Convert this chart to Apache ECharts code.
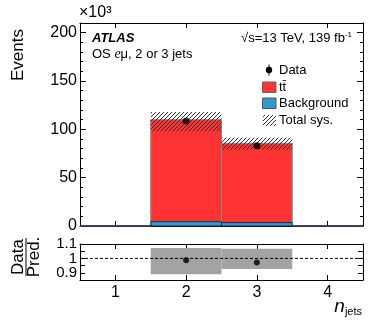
<!DOCTYPE html>
<html>
<head>
<meta charset="utf-8">
<script src="https://cdn.jsdelivr.net/npm/echarts@6/dist/echarts.min.js"></script>
<style>
  html, body { margin: 0; padding: 0; background: #fff; }
  #chart { width: 382px; height: 323px; }
</style>
</head>
<body>
<div id="chart"></div>
<script>
// jet multiplicity bins
const nJets = [1, 2, 3, 4]
// event counts, in units of 10^3
const background = [0, 4.5, 3.5, 0]
const ttbar = [0, 105.5, 82, 0]
const observed = [null, 108.5, 83, null]
const sysUp = [0, 118, 91.2, 0]
const sysDown = [0, 97.9, 79.2, 0]
const mainTicks = [0, 50, 100, 150, 200]
const ratioLabels = ['0.9', '1', '1.1']

const FONT = 'Liberation Sans'

// prediction and ratio derived from the arrays above
const predicted = nJets.map((n, i) => background[i] + ttbar[i])
const bkgData = nJets.map((n, i) => [n, 0, background[i]])
const ttData = nJets.map((n, i) => [n, background[i], predicted[i]])
const sysData = nJets.map((n, i) => [n, sysDown[i], sysUp[i]]).filter(d => d[2] > 0)
const dataPts = nJets.map((n, i) => [n, observed[i]]).filter(d => d[1] !== null)
const ratioBand = nJets.map((n, i) => predicted[i] > 0 ? [n, sysDown[i] / predicted[i], sysUp[i] / predicted[i]] : null).filter(d => d)
const ratioPts = nJets.map((n, i) => observed[i] !== null ? [n, observed[i] / predicted[i]] : null).filter(d => d)

function hatchCanvas() {
  const c = document.createElement('canvas')
  c.width = 4
  c.height = 4
  const g = c.getContext('2d')
  g.strokeStyle = '#333'
  g.lineWidth = 1
  g.beginPath()
  g.moveTo(0, 4); g.lineTo(4, 0)
  g.moveTo(-1, 1); g.lineTo(1, -1)
  g.moveTo(3, 5); g.lineTo(5, 3)
  g.stroke()
  return c
}
const hatch = { image: hatchCanvas(), repeat: 'repeat' }

// one histogram bin = rect from x-0.5 to x+0.5
function binRect(fill, stroke, lw) {
  return function (params, api) {
    const x = api.value(0)
    const p0 = api.coord([x - 0.5, api.value(2)])
    const p1 = api.coord([x + 0.5, api.value(1)])
    return {
      type: 'rect',
      shape: { x: p0[0], y: p0[1], width: p1[0] - p0[0], height: p1[1] - p0[1] },
      style: { fill: fill, stroke: stroke, lineWidth: lw }
    }
  }
}

function xAx(grid, pos, labels) {
  return {
    type: 'value', gridIndex: grid, position: pos, min: 0.5, max: 4.5,
    axisLine: { show: true, onZero: false, lineStyle: { color: '#000', width: 1 } },
    axisTick: { show: true, inside: true, length: 5, customValues: nJets, lineStyle: { color: '#000' } },
    axisLabel: labels ? { show: true, customValues: nJets, fontFamily: FONT, fontSize: 16, color: '#000', margin: 5 } : { show: false },
    splitLine: { show: false }
  }
}
function yAx(grid, pos, min, max, ticks, labels) {
  return {
    type: 'value', gridIndex: grid, position: pos, min: min, max: max,
    axisLine: { show: true, onZero: false, lineStyle: { color: '#000', width: 1 } },
    axisTick: { show: true, inside: true, length: 6, customValues: ticks, lineStyle: { color: '#000' } },
    axisLabel: labels ? { show: true, customValues: ticks, fontFamily: FONT, fontSize: 16, color: '#000', margin: 3 } : { show: false },
    splitLine: { show: false }
  }
}
function minorAx(pos) {
  return {
    type: 'value', gridIndex: 0, position: pos, min: 0, max: 210, interval: 10,
    axisLine: { show: false },
    axisTick: { show: true, inside: true, length: 3, lineStyle: { color: '#000' } },
    axisLabel: { show: false },
    splitLine: { show: false }
  }
}
function ratioAx(pos, labels) {
  return {
    type: 'value', gridIndex: 1, position: pos, min: 0.85, max: 1.1, interval: 0.05,
    axisLine: { show: true, onZero: false, lineStyle: { color: '#000', width: 1 } },
    axisTick: { show: true, inside: true, length: 5, lineStyle: { color: '#000' } },
    axisLabel: labels ? {
      show: true, fontFamily: FONT, fontSize: 15, color: '#000', margin: 3, hideOverlap: false,
      formatter: function (v) {
        const s = (Math.round(v * 100) / 100).toString()
        return ratioLabels.indexOf(s) >= 0 ? s : ''
      }
    } : { show: false },
    splitLine: { show: false }
  }
}

const option = {
  animation: false,
  backgroundColor: '#fff',
  grid: [
    { left: 80, right: 19, top: 23, height: 203 },
    { left: 80, right: 19, top: 244, height: 36 }
  ],
  xAxis: [xAx(0, 'bottom', false), xAx(0, 'top', false), xAx(1, 'bottom', true), xAx(1, 'top', false)],
  yAxis: [
    yAx(0, 'left', 0, 210, mainTicks, true),
    minorAx('left'),
    yAx(0, 'right', 0, 210, mainTicks, false),
    minorAx('right'),
    ratioAx('left', true),
    ratioAx('right', false)
  ],
  series: [
    {
      name: 'Background', type: 'custom', xAxisIndex: 0, yAxisIndex: 0,
      renderItem: binRect('#3399cc', '#1f2a44', 1), data: bkgData,
      encode: { x: 0, y: [1, 2] }, z: 3
    },
    {
      name: 'ttbar', type: 'custom', xAxisIndex: 0, yAxisIndex: 0,
      renderItem: binRect('#ff3333', '#888', 1), data: ttData,
      encode: { x: 0, y: [1, 2] }, z: 2
    },
    {
      name: 'Total sys.', type: 'custom', xAxisIndex: 0, yAxisIndex: 0,
      renderItem: binRect(hatch, null, 0), data: sysData,
      encode: { x: 0, y: [1, 2] }, z: 4
    },
    {
      name: 'Data', type: 'scatter', xAxisIndex: 0, yAxisIndex: 0,
      data: dataPts, symbolSize: 7, itemStyle: { color: '#000' }, z: 5
    },
    {
      name: 'ratio band', type: 'custom', xAxisIndex: 2, yAxisIndex: 4,
      renderItem: binRect('#a3a3a3', null, 0), data: ratioBand,
      encode: { x: 0, y: [1, 2] }, z: 2
    },
    {
      name: 'unity', type: 'line', xAxisIndex: 2, yAxisIndex: 4,
      data: [[0.5, 1], [4.5, 1]], symbol: 'none',
      lineStyle: { color: '#000', width: 1, type: [3, 2] }, z: 3
    },
    {
      name: 'ratio', type: 'scatter', xAxisIndex: 2, yAxisIndex: 4,
      data: ratioPts, symbolSize: 6, itemStyle: { color: '#000' }, z: 5
    }
  ],
  graphic: [
    { type: 'text', left: 79, top: 5, style: { text: '×10³', font: '16px ' + FONT, fill: '#000' } },
    { type: 'text', x: 18, y: 55, rotation: Math.PI / 2, style: { text: 'Events', font: '17px ' + FONT, fill: '#000', align: 'center', verticalAlign: 'middle' } },
    { type: 'text', x: 92, y: 38, style: { text: 'ATLAS', font: 'italic bold 13px ' + FONT, fill: '#000', verticalAlign: 'middle' } },
    {
      type: 'text', x: 92, y: 54,
      style: {
        text: 'OS {e|e}μ, 2 or 3 jets', font: '13px ' + FONT, fill: '#000', verticalAlign: 'middle',
        rich: { e: { fontFamily: 'Liberation Serif', fontStyle: 'italic', fontSize: 14 } }
      }
    },
    {
      type: 'text', x: 352, y: 38,
      style: {
        text: '√s=13 TeV, 139 fb{sup|-1}', font: '13px ' + FONT, fill: '#000', align: 'right', verticalAlign: 'middle',
        rich: { sup: { fontSize: 8, verticalAlign: 'top', padding: [0, 0, 6, 0] } }
      }
    },
    // legend
    { type: 'line', shape: { x1: 269, y1: 64.5, x2: 269, y2: 75.5 }, style: { stroke: '#000', lineWidth: 1 } },
    { type: 'circle', shape: { cx: 269, cy: 70, r: 3.2 }, style: { fill: '#000' } },
    { type: 'text', x: 279, y: 70, style: { text: 'Data', font: '13px ' + FONT, fill: '#000', verticalAlign: 'middle' } },
    { type: 'rect', shape: { x: 262.5, y: 82, width: 13.5, height: 10.5 }, style: { fill: '#ff3333', stroke: '#666', lineWidth: 1 } },
    { type: 'text', x: 279, y: 87, style: { text: 'tt\u0304', font: '13px ' + FONT, fill: '#000', verticalAlign: 'middle' } },
    { type: 'rect', shape: { x: 262.5, y: 98, width: 13.5, height: 10.5 }, style: { fill: '#3399cc', stroke: '#555', lineWidth: 1 } },
    { type: 'text', x: 279, y: 103.5, style: { text: 'Background', font: '13px ' + FONT, fill: '#000', verticalAlign: 'middle' } },
    { type: 'rect', shape: { x: 263, y: 115, width: 13, height: 11 }, style: { fill: hatch } },
    { type: 'text', x: 279, y: 120.5, style: { text: 'Total sys.', font: '13px ' + FONT, fill: '#000', verticalAlign: 'middle' } },
    // ratio label
    { type: 'text', x: 18, y: 257, rotation: Math.PI / 2, style: { text: 'Data', font: '17px ' + FONT, fill: '#000', align: 'center', verticalAlign: 'middle' } },
    { type: 'line', shape: { x1: 26, y1: 238, x2: 26, y2: 276 }, style: { stroke: '#000', lineWidth: 1 } },
    { type: 'text', x: 34, y: 257, rotation: Math.PI / 2, style: { text: 'Pred.', font: '17px ' + FONT, fill: '#000', align: 'center', verticalAlign: 'middle' } },
    // x axis title
    {
      type: 'text', x: 362, y: 307,
      style: {
        text: '{n|n}{s|jets}', fill: '#000', align: 'right', verticalAlign: 'middle',
        rich: {
          n: { fontFamily: FONT, fontStyle: 'italic', fontSize: 19 },
          s: { fontFamily: FONT, fontSize: 11, padding: [10, 0, 0, 0] }
        }
      }
    }
  ]
}

const chart = echarts.init(document.getElementById('chart'))
chart.setOption(option)
</script>
</body>
</html>
